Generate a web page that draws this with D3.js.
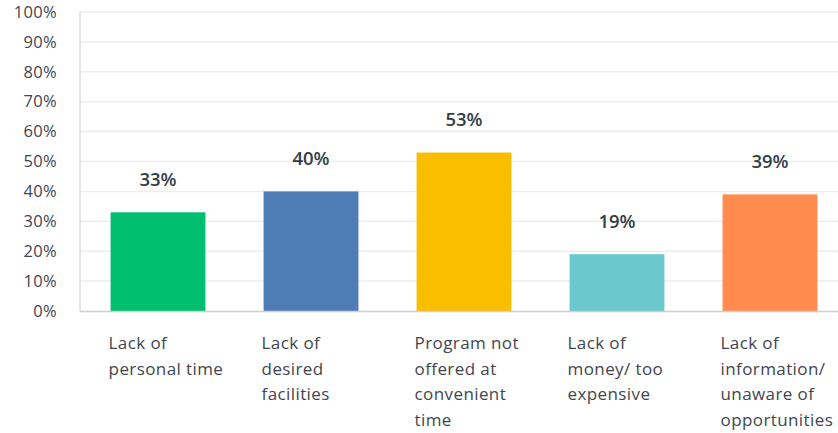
<!DOCTYPE html>
<html>
<head>
<meta charset="utf-8">
<script src="https://cdn.jsdelivr.net/npm/d3@7"></script>
<style>
  html, body { margin: 0; padding: 0; background: #fff; }
  svg { display: block; }
</style>
</head>
<body>
<svg id="chart" width="838" height="433"></svg>
<script>
// Barriers to participation: share of respondents per reason
const categories = [
  ["Lack of", "personal time"],
  ["Lack of", "desired", "facilities"],
  ["Program not", "offered at", "convenient", "time"],
  ["Lack of", "money/ too", "expensive"],
  ["Lack of", "information/", "unaware of", "opportunities"]
];
const values = [33, 40, 53, 19, 39];
const colors = ["#00BF6F", "#507CB6", "#F9BE00", "#6BC8CD", "#FF8B4F"];
const yTicks = [0, 10, 20, 30, 40, 50, 60, 70, 80, 90, 100];

const svg = d3.select("#chart");
const font = "'Open Sans', 'Noto Sans', sans-serif";
const textColor = "#333E48";

const plotLeft = 80, plotRight = 848, plotTop = 12, plotBottom = 311;

const x = d3.scaleBand()
  .domain(d3.range(values.length))
  .range([plotLeft, plotRight])
  .paddingInner(0.38)
  .paddingOuter(0.2);

const y = d3.scaleLinear().domain([0, 100]).range([plotBottom, plotTop]);

// horizontal gridlines
svg.append("g")
  .selectAll("line")
  .data(yTicks.filter(d => d > 0))
  .join("line")
  .attr("x1", plotLeft).attr("x2", 838)
  .attr("y1", d => y(d)).attr("y2", d => y(d))
  .attr("stroke", "#EDEDED")
  .attr("stroke-width", 1.5);

// left axis line
svg.append("line")
  .attr("x1", plotLeft).attr("x2", plotLeft)
  .attr("y1", plotTop).attr("y2", plotBottom)
  .attr("stroke", "#DCDCDC").attr("stroke-width", 1.5);

// y tick labels
const yAxis = d3.axisLeft(y).tickValues(yTicks).tickFormat(d => d + "%").tickSize(0).tickPadding(23);
const ga = svg.append("g").attr("transform", `translate(${plotLeft},0)`).call(yAxis);
ga.select(".domain").remove();
ga.selectAll("text")
  .attr("font-family", font)
  .attr("font-size", 16.5)
  .attr("letter-spacing", 0.3)
  .attr("fill", "#3F4650");

// bars
svg.append("g")
  .selectAll("rect")
  .data(values)
  .join("rect")
  .attr("x", (d, i) => x(i))
  .attr("width", x.bandwidth())
  .attr("y", d => y(d))
  .attr("height", d => y(0) - y(d))
  .attr("fill", (d, i) => colors[i]);

// baseline
svg.append("line")
  .attr("x1", plotLeft).attr("x2", 838)
  .attr("y1", plotBottom + 0.5).attr("y2", plotBottom + 0.5)
  .attr("stroke", "#CFCFCF").attr("stroke-width", 1.5);

// value labels
svg.append("g")
  .selectAll("text")
  .data(values)
  .join("text")
  .attr("x", (d, i) => x(i) + x.bandwidth() / 2)
  .attr("y", d => y(d) - 26.5)
  .attr("text-anchor", "middle")
  .attr("font-family", font)
  .attr("font-size", 18.5)
  .attr("font-weight", 600)
  .attr("fill", textColor)
  .text(d => d + "%");

// category labels
const cat = svg.append("g")
  .selectAll("text")
  .data(categories)
  .join("text")
  .attr("x", (d, i) => x(i) - 2)
  .attr("y", 349)
  .attr("font-family", font)
  .attr("font-size", 17)
  .attr("letter-spacing", 0.4)
  .attr("fill", "#3F4650");
cat.selectAll("tspan")
  .data(d => d)
  .join("tspan")
  .attr("x", function() { return this.parentNode.getAttribute("x"); })
  .attr("dy", (d, i) => i === 0 ? 0 : 25.5)
  .text(d => d);
</script>
</body>
</html>
